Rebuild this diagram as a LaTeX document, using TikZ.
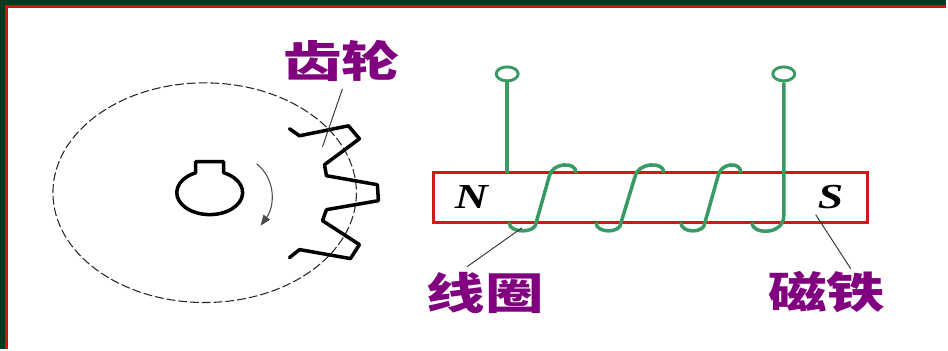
\documentclass[tikz,border=0pt]{standalone}
\usepackage{fontspec}
\newfontfamily\cjk{Noto Sans CJK SC}
\newfontfamily\polefont{Liberation Serif}
\usetikzlibrary{arrows.meta,shapes.geometric}
\definecolor{framegreen}{HTML}{053A20}
\definecolor{framered}{HTML}{D81010}
\definecolor{magred}{HTML}{D01818}
\definecolor{coilgreen}{HTML}{3A9A64}
\definecolor{labelpurple}{HTML}{800080}
\begin{document}
\begin{tikzpicture}[x=0.03cm,y=-0.03cm,
  gearline/.style={line width=3pt, line join=round, line cap=round},
  wire/.style={draw=coilgreen, line width=3pt},
  terminal/.style={draw=coilgreen, line width=2.5pt, ellipse, minimum width=0.66cm, minimum height=0.42cm, inner sep=0pt},
  leader/.style={draw=black!80, line width=0.8pt},
  tag/.style={text=labelpurple, font=\cjk\bfseries\fontsize{37}{40}\selectfont, inner sep=0pt},
  pole/.style={font=\polefont\bfseries\itshape\fontsize{30}{32}\selectfont, inner sep=0pt}]
% frame
\fill[framegreen] (0,0) rectangle (948,350);
\fill[white] (8,8) rectangle (948,350);
\draw[framered, line width=2.6pt] (6.5,350) -- (6.5,6.5) -- (948,6.5);
\useasboundingbox (0,0) rectangle (948,350);

% gear: pitch circle, shaft hole with keyway, teeth
\draw[black!85, line width=0.9pt, dash pattern=on 7.5pt off 2.6pt] (205,193) ellipse [x radius=152, y radius=110];
\draw[gearline] (196,173) -- (196,162) -- (224,162) -- (224,173)
  arc[start angle=-65, end angle=245, x radius=33, y radius=22] -- cycle;
\draw[gearline] (290,129) -- (300,136) -- (349,126) -- (360,139) -- (325,165) -- (327,176)
  -- (378,185) -- (379,201) -- (327,210) -- (323,221) -- (360,245) -- (351,259)
  -- (300,250) -- (290,258);
\draw[black!70, line width=0.9pt, -{Triangle[length=9pt,width=7pt]}]
  (257,164) .. controls (277,180) and (275,207) .. (261,226);

% magnet
\node[draw=magred, line width=3pt, minimum width=13.05cm, minimum height=1.5cm, inner sep=0pt] (magnet) at (651.5,198) {};
\node[pole] (north) at (472,197) {\scalebox{1.3}[1]{N}};
\node[pole] (south) at (832,197) {\scalebox{1.3}[1]{S}};

% coil and its leads
\node[terminal] (t1) at (508,74) {};
\node[terminal] (t2) at (785,74) {};
\draw[wire] (t1.south) -- (508,173);
\draw[wire] (510,223) .. controls (510,234) and (537,234) .. (537,223) -- (550,177)
  .. controls (552,163) and (577,161) .. (577,173);
\draw[wire] (597,223) .. controls (597,234) and (622,234) .. (622,223) -- (636,177)
  .. controls (638,163) and (665,161) .. (665,173);
\draw[wire] (682,223) .. controls (682,234) and (706,234) .. (706,223) -- (719,177)
  .. controls (721,163) and (742,161) .. (742,173);
\draw[wire] (753,223) .. controls (753,235) and (785,236) .. (785,216) -- (t2.south);

% labels and leader lines
\node[tag] (geartag) at (342,61) {\scalebox{1.35}[1]{齿轮}};
\node[tag] (coiltag) at (486,293) {\scalebox{1.35}[1]{线圈}};
\node[tag] (magtag) at (828,293) {\scalebox{1.35}[1]{磁铁}};
\coordinate (gearA) at (343,89);
\coordinate (gearB) at (323,147);
\coordinate (coilA) at (523,228);
\coordinate (coilB) at (468,267);
\coordinate (magA) at (817,215);
\coordinate (magB) at (852,269);
\draw[leader] (gearA) -- (gearB);
\draw[leader] (coilA) -- (coilB);
\draw[leader] (magA) -- (magB);
\end{tikzpicture}
\end{document}
